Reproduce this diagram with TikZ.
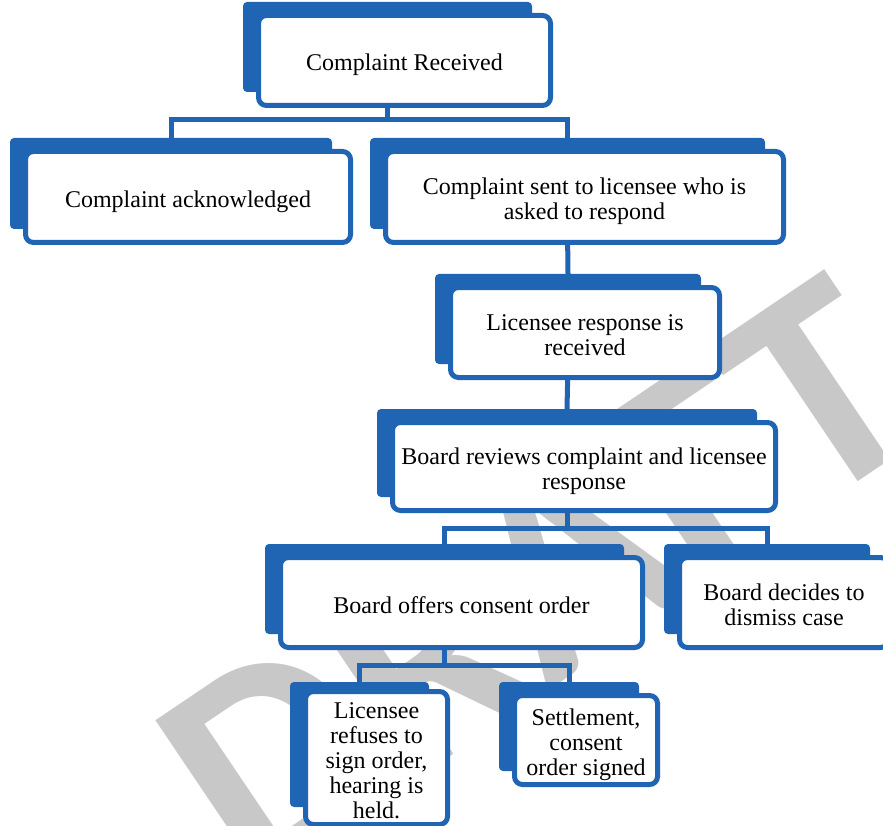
\documentclass[tikz,border=0pt]{standalone}
\usepackage{fontspec}
\setmainfont{Liberation Serif}
\newfontfamily\wmfont{Carlito}
\usetikzlibrary{calc}
\definecolor{boxblue}{RGB}{32,100,180}
\definecolor{wmgray}{RGB}{200,200,200}
\pgfdeclarelayer{wm}
\pgfdeclarelayer{back}
\pgfsetlayers{wm,back,main}
\tikzset{
  front/.style={draw=boxblue, line width=5pt, fill=white, rounded corners=8pt,
    inner sep=0pt, align=center, font=\fontsize{24}{25}\selectfont},
  backbox/.style={fill=boxblue, draw=none, rounded corners=4pt, inner sep=0pt},
  conn/.style={draw=boxblue, line width=5pt},
  wmark/.style={text=wmgray, font=\wmfont\bfseries\fontsize{300}{300}\selectfont, inner sep=0pt}
}
\newcommand\flowbox[6]{%
  \node[front, minimum width=#4pt-5pt, minimum height=#5pt-5pt] (#1) at (#2,#3)
    {\rule{0pt}{27pt}#6\rule[-6pt]{0pt}{6pt}};
  \begin{pgfonlayer}{back}
    \node[backbox, minimum width=#4pt-8pt, minimum height=#5pt-5pt, xshift=-17pt, yshift=13.5pt] (#1B) at (#1.center) {};
  \end{pgfonlayer}}
\begin{document}
\begin{tikzpicture}[x=1pt, y=-1pt]
\useasboundingbox (0,0) rectangle (883,826);
\begin{pgfonlayer}{wm}
  \node[wmark, rotate=34] (wm) at (539,580) {DRAFT};
\end{pgfonlayer}
\flowbox{rec}{404.5}{60.5}{297}{95}{Complaint Received}
\flowbox{ack}{188}{197}{330}{96}{Complaint acknowledged}
\flowbox{sent}{584.5}{197}{403}{96}{Complaint sent to licensee who is\\asked to respond}
\flowbox{resp}{585}{332.5}{274}{95}{Licensee response is\\received}
\flowbox{rev}{584}{466.5}{388}{93}{Board reviews complaint and licensee\\response}
\flowbox{offer}{461.5}{602.5}{367}{95}{Board offers consent order}
\flowbox{dismiss}{784}{602.5}{214}{95}{Board decides to\\dismiss case}
\flowbox{refuse}{376.5}{758}{147}{130}{Licensee\\refuses to\\sign order,\\hearing is\\held.}
\flowbox{settle}{586}{740}{148}{94}{Settlement,\\consent\\order signed}
\begin{pgfonlayer}{back}
  \draw[conn] (recB.south) -- (recB.south |- 0,120) -| (ackB.north);
  \draw[conn] (recB.south) -- (recB.south |- 0,120) -| (sentB.north);
  \draw[conn] (sentB.south) -- (respB.north);
  \draw[conn] (respB.south) -- (revB.north);
  \draw[conn] (revB.south) -- (revB.south |- 0,528) -| (offerB.north);
  \draw[conn] (revB.south) -- (revB.south |- 0,528) -| (dismissB.north);
  \draw[conn] (offerB.south) -- (offerB.south |- 0,665) -| (refuseB.north);
  \draw[conn] (offerB.south) -- (offerB.south |- 0,665) -| (settleB.north);
\end{pgfonlayer}
\end{tikzpicture}
\end{document}
